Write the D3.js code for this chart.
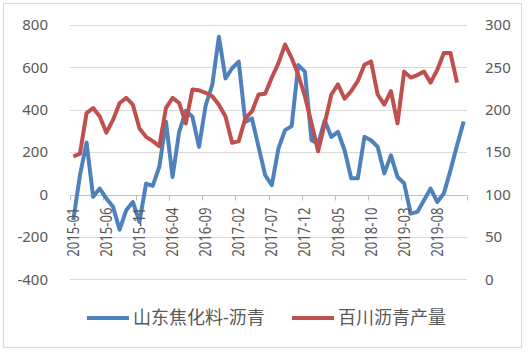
<!DOCTYPE html>
<html>
<head>
<meta charset="utf-8">
<script src="https://cdn.jsdelivr.net/npm/d3@7"></script>
<style>
  body { margin: 0; background: #fff; }
  text { font-family: "Noto Sans", "Noto Sans CJK SC", sans-serif; fill: #595959; }
</style>
</head>
<body>
<div id="chart"></div>
<script>
// monthly categories 2015-01 .. 2019-12
const months = d3.timeMonths(new Date(2015, 0, 1), new Date(2020, 0, 1)).map(d3.timeFormat("%Y-%m"));
const tickLabels = ["2015-01", "2015-06", "2015-11", "2016-04", "2016-09", "2017-02",
  "2017-07", "2017-12", "2018-05", "2018-10", "2019-03", "2019-08"];
const leftTicks = [-400, -200, 0, 200, 400, 600, 800];
const rightTicks = [0, 50, 100, 150, 200, 250, 300];

// 山东焦化料-沥青 (left axis)
const shandong = [
  -120, 90, 245, -11, 28, -19, -58, -166, -74, -35,
  -129, 52, 41, 131, 343, 83, 296, 395, 367, 225,
  420, 517, 745, 548, 596, 627, 343, 359, 225, 91,
  44, 217, 304, 323, 611, 580, 256, 240, 350, 272,
  296, 209, 77, 77, 272, 256, 225, 100, 185, 83,
  53, -90, -82, -27, 28, -35, 5, 114, 233, 345
];
// 百川沥青产量 (right axis)
const baichuan = [
  145, 148, 196, 202, 192, 173, 188, 208, 214, 206,
  178, 168, 163, 157, 202, 214, 208, 184, 224, 223,
  220, 216, 206, 192, 161, 163, 190, 198, 218, 219,
  238, 255, 277, 261, 241, 216, 184, 151, 184, 218,
  230, 213, 222, 234, 253, 257, 218, 206, 222, 184,
  245, 238, 241, 245, 232, 247, 267, 267, 232
];

const W = 528, H = 352;
const svg = d3.select("#chart").append("svg")
  .attr("width", W).attr("height", H);

// outer frame
svg.append("rect")
  .attr("x", 3.5).attr("y", 3.5)
  .attr("width", 518).attr("height", 344)
  .attr("fill", "#fff")
  .attr("stroke", "#d9d9d9");

const x = d3.scaleBand().domain(months).range([70, 467]);
const half = x.bandwidth() / 2;
const yL = d3.scaleLinear().domain([-400, 800]).range([279.3, 25]);
const yR = d3.scaleLinear().domain([0, 300]).range([279.3, 25]);

// gridlines
svg.append("g").selectAll("line")
  .data(leftTicks)
  .enter().append("line")
  .attr("x1", 70).attr("x2", 467)
  .attr("y1", d => Math.round(yL(d)) + 0.5)
  .attr("y2", d => Math.round(yL(d)) + 0.5)
  .attr("stroke", "#d9d9d9");

// left axis labels
svg.append("g").selectAll("text")
  .data(leftTicks)
  .enter().append("text")
  .attr("x", 48)
  .attr("y", d => yL(d))
  .attr("dy", "0.35em")
  .attr("text-anchor", "end")
  .style("font-size", "15px")
  .text(d => d);

// right axis labels
svg.append("g").selectAll("text")
  .data(rightTicks)
  .enter().append("text")
  .attr("x", 485)
  .attr("y", d => yR(d))
  .attr("dy", "0.35em")
  .style("font-size", "15px")
  .text(d => d);

// category axis at 0
const y0 = Math.round(yL(0)) + 0.5;
svg.append("line")
  .attr("x1", 70).attr("x2", 467)
  .attr("y1", y0).attr("y2", y0)
  .attr("stroke", "#bfbfbf");

const tickPos = months.filter((m, i) => i % 5 === 0).map(m => x(m)).concat([x.range()[1]]);
svg.append("g").selectAll("line")
  .data(tickPos)
  .enter().append("line")
  .attr("x1", d => Math.round(d) + 0.5).attr("x2", d => Math.round(d) + 0.5)
  .attr("y1", y0).attr("y2", y0 + 5)
  .attr("stroke", "#bfbfbf");

const line = (yScale) => d3.line()
  .x((d, i) => x(months[i]) + half)
  .y(d => yScale(d));

svg.append("path")
  .datum(shandong)
  .attr("d", line(yL))
  .attr("fill", "none")
  .attr("stroke", "#4F81BD")
  .attr("stroke-width", 4)
  .attr("stroke-linejoin", "round");

svg.append("path")
  .datum(baichuan)
  .attr("d", line(yR))
  .attr("fill", "none")
  .attr("stroke", "#C0504D")
  .attr("stroke-width", 4)
  .attr("stroke-linejoin", "round");

// x labels, rotated
svg.append("g").selectAll("text")
  .data(tickLabels)
  .enter().append("text")
  .attr("transform", d => `translate(${x(d) + half},${y0 + 12}) rotate(-90) scale(0.82,1)`)
  .attr("dy", "0.35em")
  .attr("text-anchor", "end")
  .style("font-size", "16px")
  .text(d => d);

// legend
const legend = [
  { name: "山东焦化料-沥青", color: "#4F81BD", x: 87 },
  { name: "百川沥青产量", color: "#C0504D", x: 292 }
];
const lg = svg.append("g").selectAll("g")
  .data(legend)
  .enter().append("g")
  .attr("transform", d => `translate(${d.x},318)`);
lg.append("line")
  .attr("x1", 0).attr("x2", 42)
  .attr("stroke", d => d.color)
  .attr("stroke-width", 4);
lg.append("text")
  .attr("x", 46)
  .attr("dy", "0.35em")
  .style("font-size", "18px")
  .text(d => d.name);
</script>
</body>
</html>
